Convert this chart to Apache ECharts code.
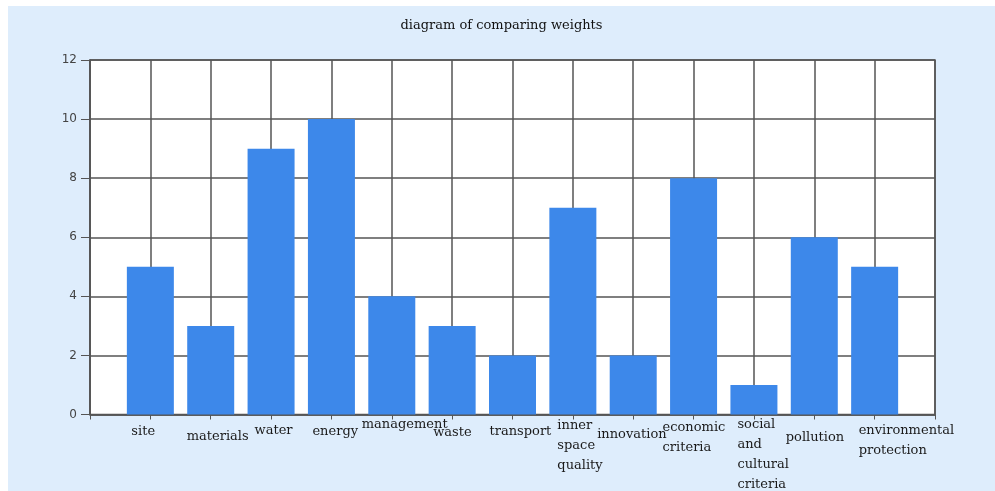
<!DOCTYPE html>
<html>
<head>
<meta charset="utf-8">
<script src="https://cdn.jsdelivr.net/npm/echarts@6/dist/echarts.min.js"></script>
<style>
html,body{margin:0;padding:0;background:#ffffff;}
#c{position:absolute;left:8px;top:6px;width:987px;height:485px;}
</style>
</head>
<body>
<div id="c"></div>
<script>
const titleText = 'diagram of comparing weights';
const categories = ['site','materials','water','energy','management','waste','transport','inner\nspace\nquality','innovation','economic\ncriteria','social\nand\ncultural\ncriteria','pollution','environmental\nprotection'];
const weights = [5,3,9,10,4,3,2,7,2,8,1,6,5];
const yMin = 0, yMax = 12, yStep = 2;

// label styling (offsets in px): how far the label starts left of its tick, and top padding
const labelLeftInset = [19,24,16.5,19,30,19,23,15.5,36,31,16.5,28.5,16];
const labelTopPad = [7,12,6,7,0,8,7,1,10,3,0,13,6];

const serif = '"DejaVu Serif", "Liberation Serif", serif';
const axisDark = '#555555';

const xData = [''].concat(categories.map((c, i) => ({value: c, textStyle: {padding: [labelTopPad[i], 0, 0, 0]}}))).concat(['']);
const barData = ['-'].concat(weights).concat(['-']);

const rich = {};
categories.forEach((c, i) => {
  rich['c' + (i + 1)] = {width: 2 * labelLeftInset[i], align: 'left', lineHeight: 20, fontFamily: serif, fontSize: 13, color: '#1a1a1a'};
});

const chart = echarts.init(document.getElementById('c'));
chart.setOption({
  backgroundColor: '#deedfc',
  animation: false,
  title: {
    text: titleText, left: 'center', top: 8,
    textStyle: {fontFamily: serif, fontSize: 13, fontWeight: 'normal', color: '#111'}
  },
  grid: {
    left: 82, right: 60, top: 54, bottom: 75,
    show: true, backgroundColor: '#ffffff', borderColor: axisDark, borderWidth: 1.5
  },
  xAxis: {
    type: 'category',
    boundaryGap: false,
    data: xData,
    axisLine: {lineStyle: {color: axisDark, width: 1.5}},
    axisTick: {show: true, length: 5, interval: 0, lineStyle: {color: axisDark}},
    splitLine: {show: true, interval: 0, lineStyle: {color: axisDark, width: 1.5}},
    axisLabel: {
      interval: 0, margin: 0,
      formatter: (value, index) => value ? value.split('\n').map(l => '{c' + index + '|' + l + '}').join('\n') : '',
      rich: rich
    }
  },
  yAxis: {
    type: 'value', min: yMin, max: yMax, interval: yStep,
    axisLine: {show: true, lineStyle: {color: axisDark, width: 1.5}},
    axisTick: {show: true, length: 9, lineStyle: {color: axisDark}},
    splitLine: {show: true, lineStyle: {color: axisDark, width: 1.5}},
    axisLabel: {margin: 13, fontFamily: '"DejaVu Sans", sans-serif', fontSize: 12, color: '#444'}
  },
  series: [{
    type: 'bar',
    data: barData,
    barWidth: 47,
    itemStyle: {color: '#3d88ea'}
  }]
});
</script>
</body>
</html>
